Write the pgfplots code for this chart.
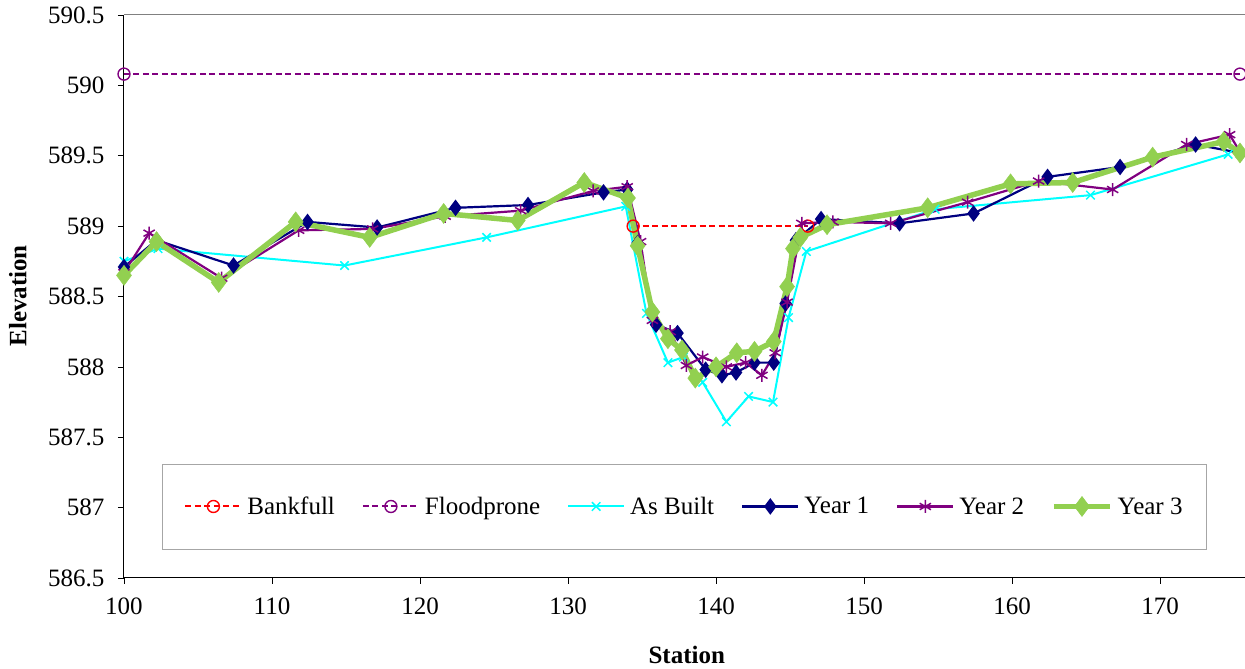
\documentclass[border=0pt]{standalone}
\usepackage{fontspec}
\setmainfont{Liberation Serif}
\usepackage{pgfplots}
\pgfplotsset{compat=1.18}
\definecolor{bankred}{RGB}{255,0,0}
\definecolor{floodpurple}{RGB}{128,0,128}
\definecolor{asbuilt}{RGB}{0,255,255}
\definecolor{yearone}{RGB}{0,0,128}
\definecolor{yeartwo}{RGB}{128,0,128}
\definecolor{yearthree}{RGB}{146,208,80}
\newcommand{\chartfont}{\fontsize{25}{30}\selectfont}
\begin{document}
\begin{tikzpicture}
\begin{axis}[
  name=ax,
  scale only axis,
  width=1121pt, height=563pt,
  xmin=100, xmax=175.74,
  ymin=586.5, ymax=590.5,
  xtick={100,110,...,170},
  ytick={586.5,587,...,590.5},
  axis x line*=bottom,
  axis y line*=left,
  axis line style={black, line width=1pt},
  tick align=outside,
  major tick length=6pt,
  tick style={black, line width=0.6pt},
  /pgf/number format/assume math mode=true,
  ticklabel style={font=\chartfont},
  yticklabel style={xshift=-10pt},
  xticklabel style={yshift=-10pt},
  xlabel={\textbf{Station}},
  ylabel={\textbf{Elevation}},
  xlabel style={font=\chartfont, at={(axis description cs:0.502,-0.137)}, anchor=center},
  ylabel style={font=\chartfont, at={(axis description cs:-0.0946,0.501)}, anchor=center, rotate=0},
  legend columns=6,
  legend style={
    font=\chartfont,
    at={(0.5,0.127)}, anchor=center,
    draw=gray!70, line width=0.8pt,
    inner xsep=22pt, inner ysep=31pt,
    /tikz/every odd column/.append style={column sep=3pt},
    /tikz/every even column/.append style={column sep=25pt},
  },
  legend image code/.code={%
    \draw[mark repeat=2,mark phase=2,#1] plot coordinates {(0pt,0pt) (28pt,0pt) (56pt,0pt)};},
  clip=false,
]
% bankfull stage across the channel
\addplot[bankred, dash pattern=on 6pt off 3.5pt, line width=2pt, mark=o, mark size=6pt, mark options={solid, line width=1.4pt}]
  coordinates {(134.4,589.0) (146.2,589.0)};
\addlegendentry{Bankfull}
% floodprone elevation
\addplot[floodpurple, dash pattern=on 6pt off 3.5pt, line width=2pt, mark=o, mark size=6pt, mark options={solid, line width=1.4pt}]
  coordinates {(100,590.08) (175.4,590.08)};
\addlegendentry{Floodprone}
% as-built survey
\addplot[asbuilt, line width=2pt, mark=x, mark size=6pt, mark options={line width=1.5pt}]
  table {
100.0 588.75
102.3 588.84
114.9 588.72
124.5 588.92
133.9 589.14
135.3 588.38
136.75 588.03
137.8 588.07
139.1 587.89
140.7 587.61
142.2 587.79
143.85 587.75
144.9 588.35
146.1 588.82
154.8 589.12
165.3 589.22
174.6 589.51
};
\addlegendentry{As Built}
% year 1 monitoring
\addplot[yearone, line width=2.2pt, mark=diamond*, mark size=6.5pt]
  table {
100.0 588.71
102.2 588.90
107.4 588.72
112.4 589.03
117.1 588.99
122.4 589.13
127.3 589.15
132.4 589.24
134.0 589.26
134.7 588.88
135.95 588.30
137.4 588.24
139.3 587.98
140.4 587.94
141.35 587.96
142.6 588.03
143.9 588.03
144.7 588.45
145.4 588.90
147.1 589.05
152.4 589.02
157.4 589.09
162.4 589.35
167.3 589.42
172.4 589.58
175.4 589.52
};
\addlegendentry{Year 1}
% year 2 monitoring
\addplot[yeartwo, line width=2.2pt, mark=asterisk, mark size=6.5pt, mark options={line width=1.5pt}]
  table {
100.0 588.67
101.7 588.95
106.6 588.63
111.8 588.97
116.8 588.98
121.7 589.07
126.8 589.11
131.7 589.25
134.0 589.28
134.9 588.89
135.7 588.33
136.9 588.25
138.0 588.01
139.1 588.07
140.7 588.00
142.0 588.03
143.1 587.94
144.0 588.10
144.8 588.46
145.8 589.02
147.9 589.03
151.8 589.02
157.0 589.17
161.8 589.32
166.8 589.26
171.8 589.58
174.7 589.65
175.5 589.51
};
\addlegendentry{Year 2}
% year 3 monitoring
\addplot[yearthree, line width=5.5pt, mark=diamond*, mark size=10pt, mark options={line width=0.5pt}]
  table {
100.0 588.65
102.2 588.89
106.4 588.60
111.6 589.03
116.6 588.92
121.6 589.09
126.6 589.04
131.1 589.31
134.05 589.20
134.7 588.86
135.7 588.39
136.75 588.20
137.7 588.12
138.6 587.92
140.0 588.00
141.4 588.10
142.6 588.11
143.9 588.18
144.8 588.57
145.2 588.84
145.7 588.92
147.5 589.01
154.3 589.13
159.9 589.30
164.1 589.31
169.5 589.49
174.3 589.60
175.4 589.52
};
\addlegendentry{Year 3}
% plot area border along the top
\draw[gray, line width=1pt] (rel axis cs:0,1) -- (rel axis cs:1,1);
\end{axis}
\pgfresetboundingbox
\path ([xshift=-124pt,yshift=-91pt]ax.south west) rectangle ([yshift=15pt]ax.north east);
\end{tikzpicture}
\end{document}
